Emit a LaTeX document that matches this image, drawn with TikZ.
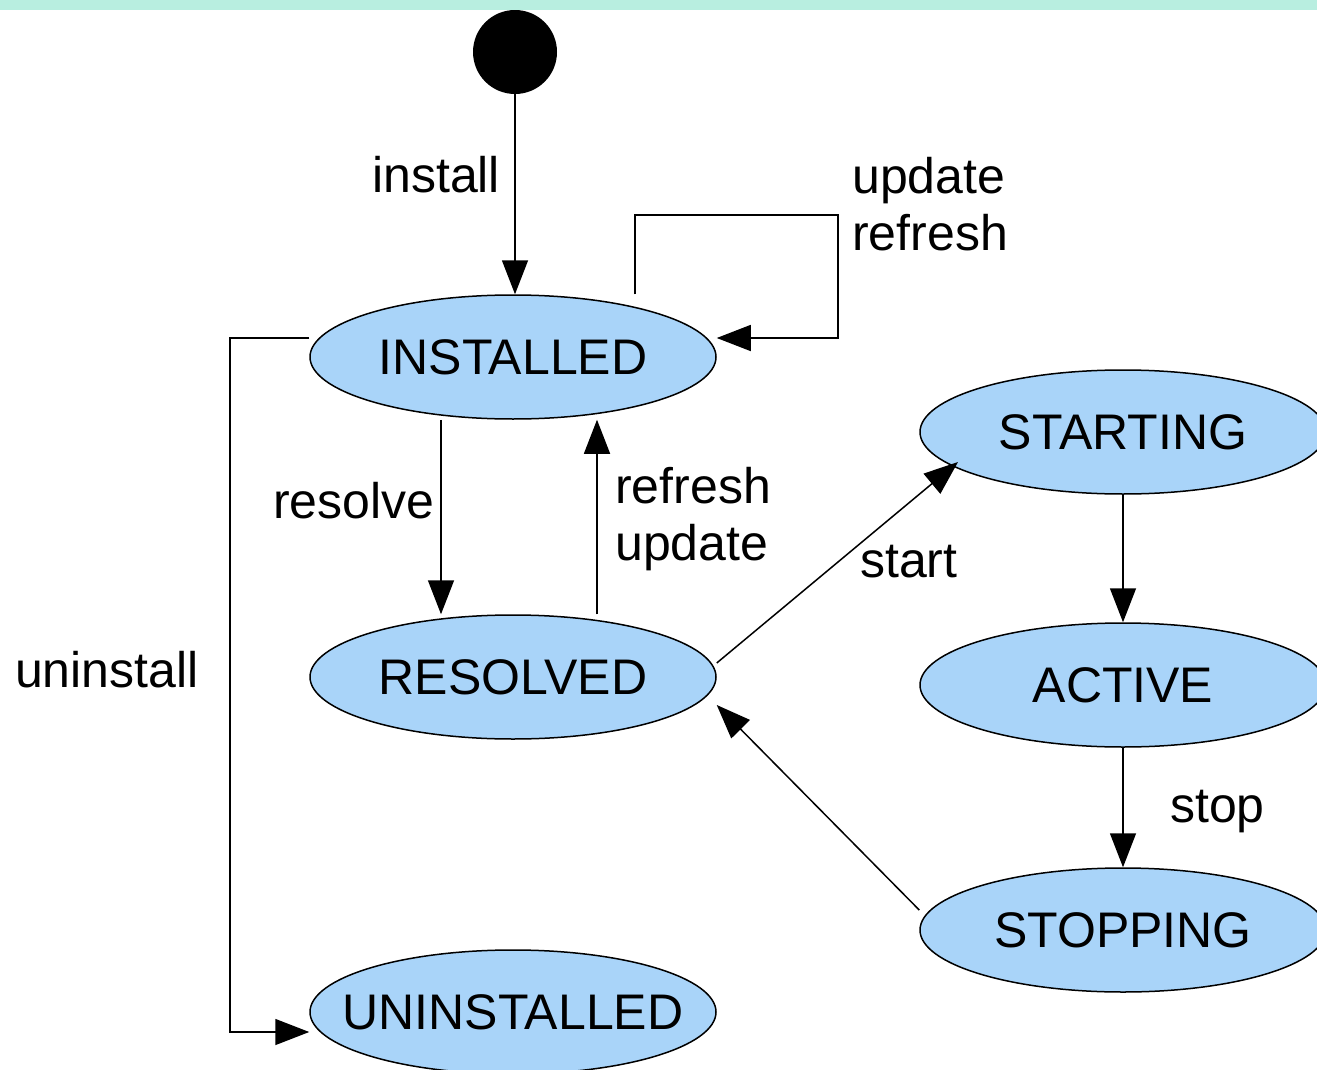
\documentclass[tikz,border=0pt]{standalone}
\usepackage{fontspec}
\setmainfont{Liberation Sans}
\usetikzlibrary{shapes.geometric,arrows.meta}
\definecolor{statefill}{RGB}{169,212,249}
\definecolor{bandteal}{RGB}{184,238,224}
\begin{document}
\begin{tikzpicture}[x=1pt,y=-1pt,
  state/.style={ellipse,draw,line width=1.5pt,fill=statefill,
    minimum width=406pt,minimum height=124pt,inner sep=0pt,
    font=\fontsize{50}{57}\selectfont},
  lbl/.style={inner sep=0pt,anchor=base west,align=left,
    font=\fontsize{50}{57}\selectfont},
  arr/.style={line width=1.5pt,-{Triangle[length=34pt,width=26pt]}}]
\clip (0,0) rectangle (1317,1070);
\fill[white] (0,0) rectangle (1317,1070);

% initial pseudo-state
\node[circle,fill=black,minimum size=84pt,inner sep=0pt] (init) at (515,52) {};

% bundle states
\node[state] (inst)   at (513,357)  {\makebox[0pt]{INSTALLED}};
\node[state] (res)    at (513,677)  {\makebox[0pt]{RESOLVED}};
\node[state] (uninst) at (513,1012) {\makebox[0pt]{UNINSTALLED}};
\node[state] (start)  at (1123,432) {\makebox[0pt]{STARTING}};
\node[state] (act)    at (1123,685) {\makebox[0pt]{ACTIVE}};
\node[state] (stop)   at (1123,930) {\makebox[0pt]{STOPPING}};

% corners of the routed connectors
\coordinate (loopTR) at (838,215);
\coordinate (leftBus) at (230,338);

% transitions
\draw[arr] (init.south) -- (init.south |- inst.north);
\draw[arr] ([xshift=122pt]inst.north) |- (loopTR) |- ([yshift=19pt]inst.east);
\draw[arr] ([yshift=19pt]inst.west) -- (leftBus) |- ([yshift=-20pt]uninst.west);
\draw[arr] ([xshift=-72pt]inst.south) -- ([xshift=-72pt]res.north);
\draw[arr] ([xshift=84pt]res.north) -- ([xshift=84pt]inst.south);
\draw[arr] ([yshift=14pt]res.east) -- ([shift={(-165pt,-30pt)}]start.center);
\draw[arr] (start.south) -- (act.north);
\draw[arr] (act.south) -- (stop.north);
\draw[arr] ([yshift=20pt]stop.west) -- ([yshift=-28pt]res.east);

% transition labels (base anchor sits on the last line)
\node[lbl] (lInstall)   at (372,192)  {install};
\node[lbl] (lLoop)      at (852,250)  {update\\refresh};
\node[lbl] (lResolve)   at (273,518)  {resolve};
\node[lbl] (lRefresh)   at (615,560)  {refresh\\update};
\node[lbl] (lStart)     at (860,577)  {start};
\node[lbl] (lUninstall) at (15,687)   {uninstall};
\node[lbl] (lStop)      at (1170,822) {stop};

% top band
\fill[bandteal] (0,0) rectangle (1317,10);
\end{tikzpicture}
\end{document}
